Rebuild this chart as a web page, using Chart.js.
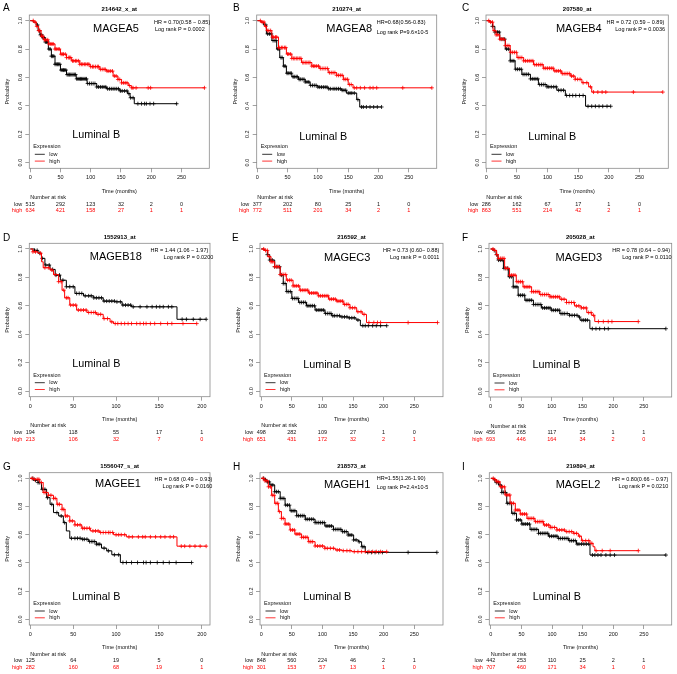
<!DOCTYPE html>
<html><head><meta charset="utf-8">
<script src="https://cdn.jsdelivr.net/npm/chart.js@4/dist/chart.umd.min.js"></script>
<style>
html,body{margin:0;padding:0;background:#fff}
body{width:677px;height:674px;position:relative;overflow:hidden}
canvas{position:absolute}
</style></head><body>
<script>
// ---------------- DATA ----------------
const panelLetters = ['A','B','C','D','E','F','G','H','I'];
const titles = ['214642_x_at','210274_at','207580_at','1552913_at','216592_at','205028_at','1556047_s_at','218573_at','219894_at'];
const genes = ['MAGEA5','MAGEA8','MAGEB4','MAGEB18','MAGEC3','MAGED3','MAGEE1','MAGEH1','MAGEL2'];
const hrLabels = ['HR = 0.70(0.58 \u2212 0.85)','HR=0.68(0.56-0.83)','HR = 0.72 (0.59 \u2212 0.89)','HR = 1.44 (1.06 \u2212 1.97)','HR = 0.73 (0.60\u2212 0.88)','HR = 0.78 (0.64 \u2212 0.94)','HR = 0.68 (0.49 \u2212 0.93)','HR=1.55(1.26-1.90)','HR = 0.80(0.66 \u2212 0.97)'];
const pLabels = ['Log rank P = 0.0002','Log rank P=9.6\u00d710-5','Log rank P = 0.0036','Log rank P = 0.0200','Log rank P = 0.0011','Log rank P = 0.0110','Log rank P = 0.0160','Log rank P=2.4\u00d710-5','Log rank P = 0.0210'];
const subtypeLabel = 'Luminal B';
const xTicksWide = [0,50,100,150,200,250];
const xTicksNarrow = [0,50,100,150,200];
const yTicks = [0,0.2,0.4,0.6,0.8,1.0];

const riskLowA = [515,292,123,32,2,0],  riskHighA = [634,421,158,27,1,1];
const riskLowB = [377,202,80,25,1,0],   riskHighB = [772,511,201,34,2,1];
const riskLowC = [286,162,67,17,1,0],   riskHighC = [863,551,214,42,2,1];
const riskLowD = [194,118,55,17,1],     riskHighD = [213,106,32,7,0];
const riskLowE = [498,282,109,27,1,0],  riskHighE = [651,431,172,32,2,1];
const riskLowF = [456,265,117,25,1,1],  riskHighF = [693,446,164,34,2,0];
const riskLowG = [125,64,19,5,0],       riskHighG = [282,160,68,19,1];
const riskLowH = [848,560,224,46,2,1],  riskHighH = [301,153,57,13,1,0];
const riskLowI = [442,253,110,25,2,1],  riskHighI = [707,460,171,34,1,0];

// survival curves: [time (months), survival after the step]
const lowA = [[0,1],[5,0.99],[10,0.97],[13,0.93],[16,0.9],[20,0.88],[25,0.85],[30,0.8],[35,0.75],[41,0.693],[50,0.652],[60,0.62],[76,0.59],[94,0.557],[110,0.533],[126,0.52],[148,0.505],[161,0.486],[165,0.457],[172,0.415],[243,0.415]];
const highA = [[0,1],[6,0.99],[10,0.96],[14,0.93],[18,0.89],[22,0.865],[30,0.836],[41,0.8],[50,0.764],[60,0.74],[68,0.717],[82,0.693],[99,0.676],[115,0.657],[126,0.645],[137,0.61],[145,0.586],[151,0.562],[162,0.543],[167,0.527],[288,0.527]];
const lowCensA = [12,15,17,19,21,23,25,27,29,31,33,35,37,39,41,43,45,47,49,51,53,55,57,59,61,63,65,67,69,71,73,75,77,79,81,83,85,87,89,91,93,95,98,101,104,107,110,113,116,119,122,125,128,131,134,137,140,143,146,149,152,156,160,163,166,170,178,184,189,192,198,204,242];
const highCensA = [5,8,11,14,16,19,21,24,26,29,31,34,36,38,41,43,46,48,51,53,55,58,60,63,65,67,70,72,75,77,80,82,85,87,90,92,95,97,100,103,105,108,111,113,116,119,122,124,127,130,133,136,139,142,145,148,151,154,157,160,164,168,170,175,195,199,288];

const lowB = [[0,1],[6,0.99],[10,0.97],[15,0.907],[24,0.86],[32,0.8],[37,0.74],[43,0.68],[48,0.63],[57,0.605],[68,0.587],[79,0.568],[87,0.544],[100,0.532],[117,0.52],[139,0.51],[147,0.49],[164,0.444],[169,0.392],[205,0.392]];
const highB = [[0,1],[6,0.99],[12,0.96],[15,0.93],[24,0.884],[35,0.81],[48,0.765],[57,0.734],[73,0.705],[90,0.68],[103,0.663],[117,0.634],[131,0.615],[142,0.587],[150,0.55],[158,0.527],[288,0.527]];
const lowCensB = [14,17,20,23,26,29,31,34,36,39,41,44,46,49,51,54,56,59,61,64,66,69,71,74,77,79,82,85,88,91,94,97,100,103,106,109,112,115,118,121,125,128,131,134,137,140,143,146,150,153,156,160,166,172,175,180,186,192,198,205];
const highCensB = [5,8,11,14,17,19,22,25,27,30,32,35,37,40,42,45,47,50,52,55,57,60,62,65,67,70,72,75,77,80,82,85,87,90,93,95,98,101,104,107,110,113,116,119,122,125,128,131,134,137,140,143,146,149,152,155,160,164,170,177,186,191,197,240,288];

const lowC = [[0,1],[6,0.99],[10,0.96],[14,0.92],[22,0.87],[31,0.8],[39,0.717],[47,0.658],[58,0.622],[72,0.59],[85,0.55],[99,0.534],[115,0.51],[129,0.473],[162,0.397],[203,0.397]];
const highC = [[0,1],[5,0.99],[11,0.93],[16,0.9],[22,0.87],[31,0.824],[39,0.777],[50,0.74],[61,0.717],[77,0.69],[93,0.665],[110,0.646],[123,0.627],[137,0.61],[145,0.587],[156,0.563],[167,0.534],[172,0.497],[288,0.497]];
const lowCensC = [10,14,18,21,24,27,30,33,36,39,42,45,48,51,54,57,60,63,66,69,72,75,78,81,84,87,90,93,96,99,102,106,110,114,118,122,126,131,136,141,146,152,158,166,172,178,184,190,197,203];
const highCensC = [4,7,10,13,16,19,22,25,28,31,34,37,40,43,46,49,52,55,58,61,64,67,70,73,76,79,82,85,88,91,94,97,100,103,106,109,112,115,118,121,124,127,130,133,136,139,142,145,149,153,158,164,170,175,182,189,195,240,288];

const lowD = [[0,1],[5,0.99],[9,0.97],[13,0.934],[17,0.887],[23,0.856],[29,0.816],[35,0.78],[42,0.734],[52,0.687],[62,0.67],[74,0.656],[85,0.633],[99,0.628],[107,0.605],[118,0.593],[171,0.505],[205,0.505]];
const highD = [[0,1],[3,0.98],[9,0.97],[13,0.91],[15,0.868],[23,0.852],[27,0.82],[33,0.77],[37,0.71],[40,0.656],[46,0.605],[54,0.57],[66,0.553],[77,0.54],[85,0.51],[93,0.487],[97,0.475],[194,0.475]];
const lowCensD = [5,8,11,14,18,22,26,30,34,38,42,46,50,54,57,60,64,68,71,74,77,80,83,86,89,92,95,98,101,105,108,111,114,117,120,128,136,142,147,151,155,161,165,177,182,190,198,205];
const highCensD = [3,6,12,17,21,25,29,33,36,39,42,44,47,50,53,56,59,62,65,68,71,74,76,79,82,86,90,95,99,102,106,110,114,118,124,128,132,135,140,145,152,160,165,178,194];

const lowE = [[0,1],[5,0.99],[10,0.96],[14,0.922],[22,0.875],[31,0.816],[36,0.757],[41,0.7],[50,0.652],[61,0.624],[74,0.6],[88,0.57],[104,0.546],[115,0.53],[129,0.522],[142,0.515],[155,0.5],[162,0.46],[205,0.46]];
const highE = [[0,1],[5,0.99],[11,0.946],[16,0.91],[22,0.875],[31,0.82],[41,0.78],[52,0.74],[63,0.71],[77,0.69],[93,0.67],[110,0.647],[123,0.633],[134,0.61],[145,0.586],[156,0.558],[165,0.54],[172,0.482],[288,0.482]];
const lowCensE = [10,14,18,22,26,30,33,36,39,42,45,48,51,54,57,60,63,66,69,72,75,78,81,84,87,90,93,96,99,102,105,108,111,114,117,120,124,128,132,136,140,144,148,152,158,166,170,175,182,188,195,205];
const highCensE = [4,7,10,13,16,19,22,25,28,31,34,37,40,43,46,49,52,55,58,61,64,67,70,73,76,79,82,85,88,91,94,97,100,103,106,109,112,115,118,121,124,127,130,133,136,139,142,145,149,153,158,163,168,176,184,190,195,240,288];

const lowF = [[0,1],[5,0.99],[9,0.96],[12,0.922],[21,0.864],[29,0.805],[37,0.734],[45,0.675],[56,0.64],[70,0.61],[83,0.586],[99,0.57],[113,0.546],[129,0.534],[143,0.522],[146,0.5],[162,0.44],[286,0.44]];
const highF = [[0,1],[5,0.99],[10,0.96],[12.5,0.934],[23,0.864],[31,0.816],[42,0.77],[53,0.734],[67,0.7],[80,0.68],[97,0.664],[113,0.647],[124,0.624],[137,0.6],[148,0.586],[157,0.553],[165,0.534],[170,0.49],[241,0.49]];
const lowCensF = [6,10,13,16,19,22,25,28,31,34,37,40,43,46,49,52,55,58,61,64,67,70,73,76,79,82,85,88,91,94,97,100,103,106,109,112,115,118,121,125,129,133,137,141,145,149,152,155,158,166,172,178,186,192,286];
const highCensF = [4,7,10,13,16,19,22,25,28,31,34,37,40,43,46,49,52,55,58,61,64,67,70,73,76,79,82,85,88,91,94,97,100,103,106,109,112,116,120,124,128,132,136,140,144,148,152,156,160,164,168,176,184,192,198,241];

const lowG = [[0,1],[3.5,0.986],[9,0.97],[13,0.922],[19,0.863],[23,0.816],[27,0.757],[33,0.733],[38.5,0.686],[42,0.627],[46,0.575],[60,0.568],[68,0.552],[77,0.533],[83,0.505],[89,0.486],[95,0.458],[105,0.403],[188,0.403]];
const highG = [[0,1],[3.5,0.993],[11,0.97],[15,0.9],[21,0.88],[27,0.858],[31,0.816],[37,0.78],[40.5,0.733],[46,0.698],[52,0.67],[60,0.646],[70,0.627],[81,0.616],[97,0.6],[112,0.585],[171,0.519],[205,0.519]];
const lowCensG = [3,6,9,11,14,17,20,25,31,36,40,48,52,55,58,61,63,66,69,71,73,75,77,79,81,86,91,98,103,108,112,118,125,132,135,140,148,155,162,170,188];
const highCensG = [2,5,8,10,13,16,18,21,24,27,29,32,34,37,39,41,43,46,49,52,55,58,61,63,66,69,73,76,79,82,85,88,91,93,96,100,103,106,110,115,119,126,131,134,140,146,152,157,163,167,176,180,186,192,198,205];

const lowH = [[0,1],[5,0.99],[9,0.975],[14,0.953],[22,0.905],[31,0.858],[39,0.81],[47,0.77],[58,0.735],[72,0.71],[88,0.686],[104,0.662],[118,0.638],[132,0.622],[142,0.598],[151,0.563],[159,0.55],[164,0.515],[170,0.475],[287,0.475]];
const highH = [[0,1],[6,0.983],[11.5,0.94],[17,0.88],[22,0.823],[28,0.764],[33,0.716],[39,0.676],[47,0.634],[55,0.605],[66,0.582],[77,0.551],[88,0.52],[104,0.504],[121,0.492],[132,0.487],[148,0.48],[205,0.48]];
const lowCensH = [4,7,10,13,16,19,22,25,28,31,34,37,40,43,46,49,52,55,58,61,64,67,70,73,76,79,82,85,88,91,94,97,100,103,106,109,112,115,118,121,124,127,130,133,136,139,142,145,148,151,155,160,165,168,174,180,186,192,198,240,287];
const highCensH = [3,6,9,12,15,18,21,24,27,30,33,36,39,42,45,48,51,54,57,60,63,66,69,72,75,78,81,84,88,92,96,100,104,108,113,118,124,128,134,140,145,152,158,164,170,176,182,188,195,205];

const lowI = [[0,1],[5,0.99],[9,0.97],[12.5,0.953],[18,0.9],[26,0.823],[34,0.752],[42,0.705],[50.5,0.676],[64,0.638],[78,0.61],[94,0.59],[110,0.574],[127,0.558],[140,0.534],[162,0.456],[286,0.456]];
const highI = [[0,1],[5,0.99],[10,0.976],[15,0.94],[23,0.882],[31.5,0.823],[40,0.775],[48,0.747],[59,0.716],[72,0.693],[86,0.669],[97,0.652],[108,0.634],[121,0.622],[135,0.61],[143,0.59],[148,0.558],[162,0.539],[167,0.515],[170,0.487],[241,0.487]];
const lowCensI = [6,9,12,15,18,21,24,27,30,33,36,39,42,45,48,51,54,57,60,63,66,69,72,75,78,81,84,87,90,93,96,99,102,105,108,111,114,117,120,123,126,129,132,135,138,141,144,148,152,156,160,166,170,175,180,188,195,202,286];
const highCensI = [4,7,10,13,16,19,22,25,28,31,34,37,40,43,46,49,52,55,58,61,64,67,70,73,76,79,82,85,88,91,94,97,100,104,108,112,116,120,124,128,132,136,140,145,150,155,160,165,172,182,195,241];

const lowCurves = [lowA,lowB,lowC,lowD,lowE,lowF,lowG,lowH,lowI];
const highCurves = [highA,highB,highC,highD,highE,highF,highG,highH,highI];
const lowCens = [lowCensA,lowCensB,lowCensC,lowCensD,lowCensE,lowCensF,lowCensG,lowCensH,lowCensI];
const highCens = [highCensA,highCensB,highCensC,highCensD,highCensE,highCensF,highCensG,highCensH,highCensI];
const riskLow = [riskLowA,riskLowB,riskLowC,riskLowD,riskLowE,riskLowF,riskLowG,riskLowH,riskLowI];
const riskHigh = [riskHighA,riskHighB,riskHighC,riskHighD,riskHighE,riskHighF,riskHighG,riskHighH,riskHighI];

// ---------------- LAYOUT (pixels) ----------------
const LAYOUT = [
 {cv:[0,0,225,225],   box:[29.3,15,209.3,168.3],  xr:[-1.5,296],  wide:true,  letter:[3,8.5],   gene:[116,29.2],   lum:32.8, hr:[154,22.7,'left'],   lr:[155,29.3,'left']},
 {cv:[225,0,225,225], box:[256.7,15,436.7,168.3], xr:[-1,296],    wide:true,  letter:[233,8.5], gene:[349.2,29.2], lum:31.6, hr:[376.7,22.7,'left'], lr:[376.7,32.7,'left']},
 {cv:[450,0,227,225], box:[486,15,668.3,168.3],   xr:[-0.5,297],  wide:true,  letter:[462,8.5], gene:[578.8,29.2], lum:31.6, hr:[664.3,22.7,'right'],lr:[665,29.3,'right']},
 {cv:[0,225,225,225], box:[29.3,243.3,210,396.7], xr:[-1.2,209.5],wide:false, letter:[3,238.5], gene:[115.8,257.3],lum:32.2, hr:[208.3,250,'right'], lr:[213.3,257.3,'right']},
 {cv:[225,225,225,225],box:[260,243.3,443,396.7], xr:[-2,297],    wide:true,  letter:[232,238.5],gene:[347.2,257.8],lum:31.7, hr:[439.3,250,'right'], lr:[439.3,257.3,'right']},
 {cv:[450,225,227,225],box:[489,243.3,671.7,397], xr:[-2.5,295.5],wide:true,  letter:[462,238.5],gene:[578.8,257.8],lum:31.7, hr:[670,250,'right'],   lr:[671.5,257.3,'right']},
 {cv:[0,450,225,224], box:[29.3,472.7,210,625],   xr:[-1.2,209.5],wide:false, letter:[3,467],   gene:[118,484.2],  lum:27.5, hr:[212.3,479.3,'right'],lr:[212.3,486.7,'right']},
 {cv:[225,450,225,224],box:[260,472.7,443,625],   xr:[-2,297],    wide:true,  letter:[233,467], gene:[347.2,484.7],lum:28.3, hr:[376.7,478.3,'left'], lr:[376.7,487.7,'left']},
 {cv:[450,450,227,224],box:[489.3,472.7,671.7,625],xr:[-2.5,295.5],wide:true, letter:[462,467], gene:[578,484.5],  lum:28.3, hr:[668.3,479.3,'right'],lr:[668.3,486.7,'right']}
];

const FAM = '"Liberation Sans", Arial, Helvetica, sans-serif';
const SMALL = 5.5;
const RED = '#ff0000';
const INK = '#111';
const YW = 26, XH = 30;

function stepAt(curve, t) {
  let s = curve[0][1];
  for (const [tt, ss] of curve) { if (tt <= t) s = ss; else break; }
  return s;
}
function txt(ctx, s, x, y, size, align, color, weight) {
  ctx.font = (weight || 'normal') + ' ' + size + 'px ' + FAM;
  ctx.textAlign = align; ctx.textBaseline = 'middle'; ctx.fillStyle = color;
  ctx.fillText(s, x, y);
}

function makePlugin(i) {
  const L = LAYOUT[i];
  const ox = L.cv[0], oy = L.cv[1];
  return {
    id: 'km' + i,
    afterDatasetsDraw(chart) {
      const ctx = chart.ctx, a = chart.chartArea;
      ctx.save();
      ctx.strokeStyle = '#8a8a8a'; ctx.lineWidth = 0.8;
      ctx.strokeRect(a.left, a.top, a.right - a.left, a.bottom - a.top);
      ctx.restore();
    },
    afterDraw(chart) {
      const ctx = chart.ctx, a = chart.chartArea, xs = chart.scales.x;
      ctx.save();
      txt(ctx, panelLetters[i], L.letter[0] - ox, L.letter[1] - oy, 10, 'left', '#000');
      txt(ctx, titles[i], (a.left + a.right) / 2, a.top - 6, 6, 'center', '#000', 'bold');
      txt(ctx, genes[i], L.gene[0] - ox, L.gene[1] - oy, 11, 'center', '#000');
      txt(ctx, hrLabels[i], L.hr[0] - ox, L.hr[1] - oy, SMALL, L.hr[2], '#000');
      txt(ctx, pLabels[i], L.lr[0] - ox, L.lr[1] - oy, SMALL, L.lr[2], '#000');
      const x0 = xs.getPixelForValue(0);
      txt(ctx, subtypeLabel, x0 + 66, a.bottom - L.lum, 10.8, 'center', '#000');
      // legend
      txt(ctx, 'Expression', a.left + 4, a.bottom - 21.7, SMALL, 'left', INK);
      ctx.lineWidth = 0.8;
      ctx.strokeStyle = '#000'; ctx.beginPath(); ctx.moveTo(a.left + 5.5, a.bottom - 14); ctx.lineTo(a.left + 15.5, a.bottom - 14); ctx.stroke();
      ctx.strokeStyle = RED; ctx.beginPath(); ctx.moveTo(a.left + 5.5, a.bottom - 7.2); ctx.lineTo(a.left + 15.5, a.bottom - 7.2); ctx.stroke();
      txt(ctx, 'low', a.left + 20, a.bottom - 14, SMALL, 'left', INK);
      txt(ctx, 'high', a.left + 20, a.bottom - 7.2, SMALL, 'left', INK);
      // number at risk
      const ticks = L.wide ? xTicksWide : xTicksNarrow;
      txt(ctx, 'Number at risk', x0, a.bottom + 29, SMALL, 'left', INK);
      txt(ctx, 'low', x0 - 8, a.bottom + 35.7, SMALL, 'right', INK);
      txt(ctx, 'high', x0 - 8, a.bottom + 42.4, SMALL, 'right', RED);
      ticks.forEach((t, k) => {
        const px = xs.getPixelForValue(t);
        txt(ctx, String(riskLow[i][k]), px, a.bottom + 35.7, SMALL, 'center', INK);
        txt(ctx, String(riskHigh[i][k]), px, a.bottom + 42.4, SMALL, 'center', RED);
      });
      ctx.restore();
    }
  };
}

for (let i = 0; i < 9; i++) {
  const L = LAYOUT[i];
  const [cx, cy, cw, ch] = L.cv;
  const [bl, bt, br, bb] = L.box;
  const cvs = document.createElement('canvas');
  cvs.width = cw; cvs.height = ch;
  cvs.style.left = cx + 'px'; cvs.style.top = cy + 'px';
  cvs.style.width = cw + 'px'; cvs.style.height = ch + 'px';
  document.body.appendChild(cvs);
  const xt = L.wide ? xTicksWide : xTicksNarrow;
  const toPts = c => c.map(([x, y]) => ({x, y}));
  const cens = (c, ts) => ts.map(t => ({x: t, y: stepAt(c, t)}));
  const tickFont = {size: SMALL, family: FAM};
  new Chart(cvs, {
    type: 'line',
    data: {datasets: [
      {data: cens(highCurves[i], highCens[i]), showLine: false, pointStyle: 'cross', pointRadius: 2, pointBorderColor: RED, pointBorderWidth: 0.8, borderColor: RED},
      {data: toPts(highCurves[i]), stepped: true, borderColor: RED, borderWidth: 1, pointRadius: 0, fill: false},
      {data: cens(lowCurves[i], lowCens[i]), showLine: false, pointStyle: 'cross', pointRadius: 2, pointBorderColor: '#000', pointBorderWidth: 0.8, borderColor: '#000'},
      {data: toPts(lowCurves[i]), stepped: true, borderColor: '#000', borderWidth: 1, pointRadius: 0, fill: false}
    ]},
    options: {
      responsive: false, maintainAspectRatio: false, animation: false,
      events: [],
      layout: {padding: {left: (bl - cx) - YW, top: bt - cy, right: (cx + cw) - br, bottom: (cy + ch) - bb - XH}},
      plugins: {legend: {display: false}, tooltip: {enabled: false}, title: {display: false}},
      scales: {
        x: {type: 'linear', position: 'bottom', min: L.xr[0], max: L.xr[1],
          afterBuildTicks: s => { s.ticks = xt.map(v => ({value: v})); },
          afterFit: s => { s.height = XH; },
          ticks: {callback: v => String(v), font: tickFont, color: INK, padding: 2, maxRotation: 0, autoSkip: false},
          grid: {display: true, drawOnChartArea: false, drawTicks: true, tickLength: 4, color: '#8a8a8a', lineWidth: 0.8},
          border: {display: false},
          title: {display: true, text: 'Time (months)', font: tickFont, color: INK, padding: {top: 0, bottom: 4}}
        },
        y: {type: 'linear', position: 'left', min: -0.04, max: 1.04,
          afterBuildTicks: s => { s.ticks = yTicks.map(v => ({value: v})); },
          afterFit: s => { s.width = YW; },
          ticks: {callback: v => v.toFixed(1), font: tickFont, color: INK, padding: 1, minRotation: 90, maxRotation: 90, crossAlign: 'center', autoSkip: false},
          grid: {display: true, drawOnChartArea: false, drawTicks: true, tickLength: 4, color: '#8a8a8a', lineWidth: 0.8},
          border: {display: false},
          title: {display: true, text: 'Probability', font: tickFont, color: INK, padding: {top: 1, bottom: 0}}
        }
      }
    },
    plugins: [makePlugin(i)]
  });
}
</script>
</body></html>
